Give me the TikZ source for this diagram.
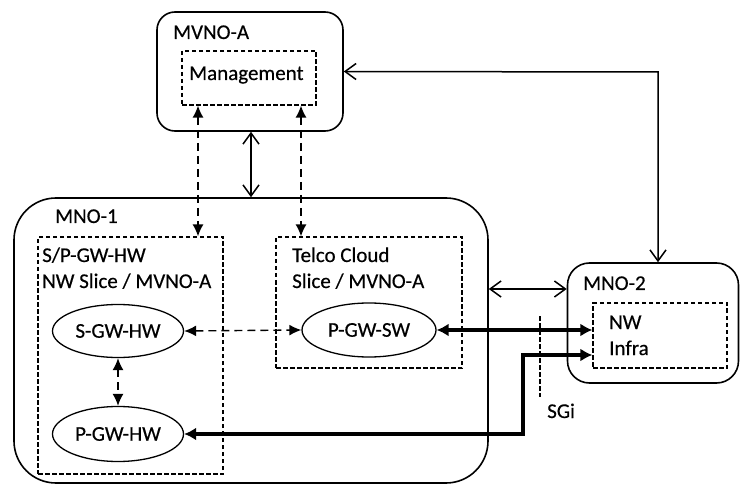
\documentclass[tikz,border=0pt]{standalone}
\usepackage{fontspec}
\setmainfont{Carlito}[BoldFont=Carlito,BoldFeatures={FakeBold=0.4}]
\usetikzlibrary{arrows.meta,shapes.geometric}
\tikzset{
  box/.style={draw,line width=1.6pt,rounded corners=#1,inner sep=0pt},
  dbox/.style={draw,line width=1.2pt,dash pattern=on 4.5pt off 2.5pt,inner sep=0pt},
  ell/.style={draw,ellipse,line width=1.3pt,inner sep=0pt},
  txt/.style={inner sep=0pt,font=\fontsize{21}{25}\selectfont\bfseries},
  lbl/.style={txt,anchor=base west},
  openarr/.style={line width=1.5pt,{Straight Barb[length=11pt,width=16pt,line width=1.5pt]}-{Straight Barb[length=11pt,width=16pt,line width=1.5pt]}},
  dasharr/.style={line width=1.4pt,dash pattern=on 8pt off 5pt,{Latex[length=12pt,width=11pt]}-{Latex[length=12pt,width=11pt]}},
  thickarr/.style={line width=3.8pt,{Latex[length=12pt,width=13pt]}-{Latex[length=12pt,width=13pt]}},
}
\begin{document}
\begin{tikzpicture}[x=1pt,y=-1pt]
\useasboundingbox (0,0) rectangle (740,484);
% containers
\node[box=18pt,minimum width=186pt,minimum height=119pt] (MVNO) at (250,71.5) {};
\node[dbox,minimum width=134pt,minimum height=54pt] (Mgmt) at (249,78) {};
\node[box=42pt,minimum width=474pt,minimum height=285pt] (MNO1) at (251,340.5) {};
\node[dbox,minimum width=185pt,minimum height=237pt] (SP) at (130.5,355.5) {};
\node[dbox,minimum width=186pt,minimum height=131pt] (Telco) at (369,302.5) {};
\node[box=22pt,minimum width=171pt,minimum height=120pt] (MNO2) at (653,323) {};
\node[dbox,minimum width=134pt,minimum height=65pt] (NWI) at (660,335.5) {};
% ellipses
\node[ell,minimum width=131pt,minimum height=53pt] (SGW) at (118,331) {};
\node[ell,minimum width=131pt,minimum height=55pt] (PGWHW) at (118,434) {};
\node[ell,minimum width=134pt,minimum height=54pt] (PGWSW) at (369,330) {};
\node[txt] (tSGW) at (SGW.center) {S-GW-HW};
\node[txt] (tPGWHW) at (PGWHW.center) {P-GW-HW};
\node[txt] (tPGWSW) at (PGWSW.center) {P-GW-SW};
% labels
\node[lbl] (lMVNO) at (173,39) {MVNO-A};
\node[lbl] (lMgmt) at (189,80) {Management};
\node[lbl] (lMNO1) at (55,223) {MNO-1};
\node[lbl] (lSP1) at (42,262) {S/P-GW-HW};
\node[lbl] (lSP2) at (42,288) {NW Slice / MVNO-A};
\node[lbl] (lTC1) at (292,262) {Telco Cloud};
\node[lbl] (lTC2) at (292,288) {Slice / MVNO-A};
\node[lbl] (lMNO2) at (583,290) {MNO-2};
\node[lbl] (lNW) at (609,329) {NW};
\node[lbl] (lInfra) at (609,355) {Infra};
\node[lbl] (lSGi) at (547,418) {SGi};
% helper coordinates
\coordinate (d1) at (198,0);
\coordinate (d2) at (301,0);
\coordinate (s1) at (251,0);
\coordinate (c) at (658,72);
\coordinate (m) at (0,289);
\coordinate (k) at (523,355);
\coordinate (g1) at (540,316);
\coordinate (g2) at (540,397);
% connectors
\draw[openarr] (s1 |- MVNO.south) -- (s1 |- MNO1.north);
\draw[dasharr] (d1 |- Mgmt.south) -- (d1 |- SP.north);
\draw[dasharr] (d2 |- Mgmt.south) -- (d2 |- Telco.north);
\draw[openarr] (MVNO.east) -- (c) -- (c |- MNO2.north);
\draw[openarr] (m -| MNO1.east) -- (m -| MNO2.west);
\draw[dasharr] (SGW.east) -- (PGWSW.west);
\draw[dasharr] (SGW.south) -- (PGWHW.north);
\draw[thickarr] (PGWSW.east) -- (PGWSW.east -| NWI.west);
\draw[thickarr,line join=miter] (PGWHW.east) -| (k) -- (k -| NWI.west);
\draw[line width=1.2pt,dash pattern=on 4.5pt off 2.5pt] (g1) -- (g2);
\end{tikzpicture}
\end{document}
